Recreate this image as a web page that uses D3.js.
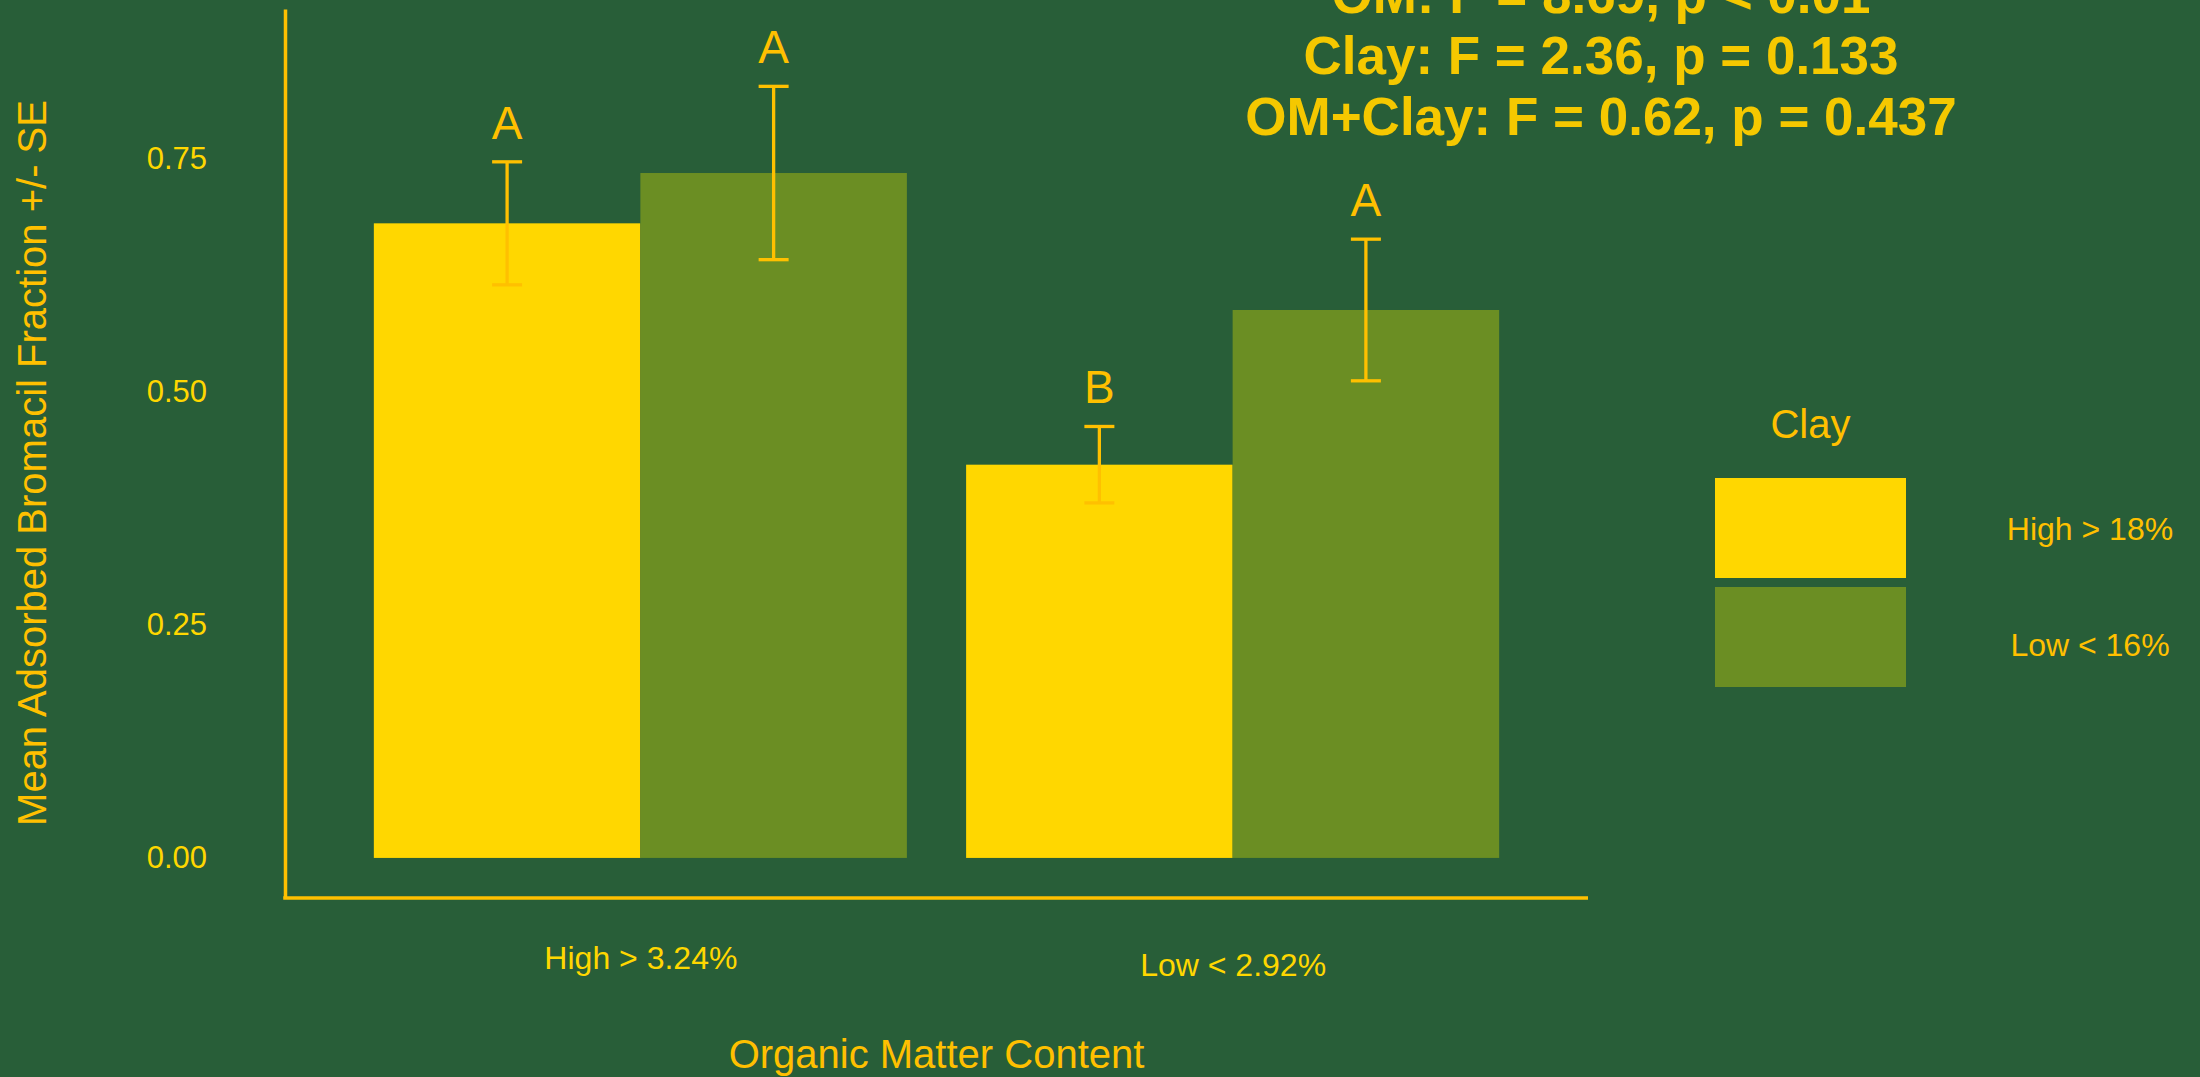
<!DOCTYPE html>
<html>
<head>
<meta charset="utf-8">
<script src="https://cdn.jsdelivr.net/npm/d3@7"></script>
<style>
  html, body { margin: 0; padding: 0; background: #285E38; }
  svg { display: block; }
  text { font-family: "Liberation Sans", Arial, sans-serif; }
</style>
</head>
<body>
<script>
// Organic matter groups (x axis) and clay groups (fill)
const omLevels = ["High > 3.24%", "Low < 2.92%"];
const clayLevels = ["High > 18%", "Low < 16%"];

// Mean adsorbed bromacil fraction, one row per OM level, one column per clay level
const meanHighOM = [0.681, 0.735];
const meanLowOM = [0.422, 0.588];
// Standard errors in the same layout
const seHighOM = [0.066, 0.093];
const seLowOM = [0.041, 0.076];
// Significance letters
const lettersHighOM = ["A", "A"];
const lettersLowOM = ["B", "A"];

const yTicks = [0, 0.25, 0.5, 0.75];
const titleLines = [
  "OM: F = 8.69, p < 0.01",
  "Clay: F = 2.36, p = 0.133",
  "OM+Clay: F = 0.62, p = 0.437"
];
const xTitle = "Organic Matter Content";
const yTitle = "Mean Adsorbed Bromacil Fraction +/- SE";
const legendTitle = "Clay";

const W = 2200, H = 1077;
const BG = "#285E38";
const AMBER = "#FFC000";
const TEXT = "#F5C800";
const TICK_TEXT = "#FFD700";
const fills = ["#FFD700", "#6B8E23"];

const rows = [
  { om: omLevels[0], means: meanHighOM, ses: seHighOM, letters: lettersHighOM },
  { om: omLevels[1], means: meanLowOM, ses: seLowOM, letters: lettersLowOM }
];
const data = rows.flatMap(r => clayLevels.map((c, i) => ({
  om: r.om, clay: c, mean: r.means[i], se: r.ses[i], letter: r.letters[i]
})));

const svg = d3.select("body").append("svg")
  .attr("width", W).attr("height", H);
svg.append("rect").attr("width", W).attr("height", H).attr("fill", BG);

// Panel geometry
const panel = { left: 285, right: 1588, top: 9, bottom: 898 };

const x = d3.scalePoint().domain(omLevels)
  .range([panel.left, panel.right]).padding(0.6);
const groupWidth = x.step() * 0.9;
const xInner = d3.scaleBand().domain(clayLevels)
  .range([-groupWidth / 2, groupWidth / 2]).padding(0);
const y = d3.scaleLinear().domain([-0.043, 0.911])
  .range([panel.bottom, panel.top]);
const color = d3.scaleOrdinal().domain(clayLevels).range(fills);

// Strings with descenders sit a little higher so their ink bottoms line up
const descShift = (s, size) => /[gjpqy]/.test(s) ? 0.22 * size : 0;

// Bars
svg.append("g").selectAll("rect").data(data).join("rect")
  .attr("x", d => x(d.om) + xInner(d.clay))
  .attr("width", xInner.bandwidth())
  .attr("y", d => y(d.mean))
  .attr("height", d => y(0) - y(d.mean))
  .attr("fill", d => color(d.clay));

// Error bars
const capHalf = 15;
const eb = svg.append("g").attr("stroke", AMBER).attr("stroke-width", 3.3)
  .attr("fill", "none");
data.forEach(d => {
  const cx = x(d.om) + xInner(d.clay) + xInner.bandwidth() / 2;
  const yHi = y(d.mean + d.se), yLo = y(d.mean - d.se);
  eb.append("line").attr("x1", cx).attr("x2", cx).attr("y1", yHi).attr("y2", yLo);
  eb.append("line").attr("x1", cx - capHalf).attr("x2", cx + capHalf).attr("y1", yHi).attr("y2", yHi);
  eb.append("line").attr("x1", cx - capHalf).attr("x2", cx + capHalf).attr("y1", yLo).attr("y2", yLo);
});

// Significance letters
svg.append("g").selectAll("text").data(data).join("text")
  .attr("x", d => x(d.om) + xInner(d.clay) + xInner.bandwidth() / 2)
  .attr("y", d => y(d.mean + d.se) - 23)
  .attr("text-anchor", "middle")
  .attr("font-size", 46)
  .attr("fill", AMBER)
  .text(d => d.letter);

// Y axis
const yAxis = svg.append("g")
  .attr("transform", `translate(${panel.left},0)`)
  .call(d3.axisLeft(y).tickValues(yTicks).tickFormat(d3.format(".2f"))
    .tickSize(0).tickPadding(78));
yAxis.select(".domain").attr("stroke", AMBER).attr("stroke-width", 3.5);
yAxis.selectAll(".tick text")
  .attr("font-size", 31).attr("fill", TICK_TEXT)
  .attr("font-family", "Liberation Sans, Arial, sans-serif");

// X axis
const xAxis = svg.append("g")
  .attr("transform", `translate(0,${panel.bottom})`)
  .call(d3.axisBottom(x).tickSize(0).tickSizeOuter(0));
xAxis.select(".domain").attr("stroke", AMBER).attr("stroke-width", 3.5)
  .attr("d", `M${panel.left - 1.75},0H${panel.right}`);
xAxis.selectAll(".tick text")
  .attr("font-size", 32).attr("fill", TICK_TEXT)
  .attr("font-family", "Liberation Sans, Arial, sans-serif")
  .attr("dy", null)
  .attr("y", d => 78 - descShift(d, 32));

// Axis titles
svg.append("text")
  .attr("x", (panel.left + panel.right) / 2).attr("y", 1068)
  .attr("text-anchor", "middle").attr("font-size", 40).attr("fill", AMBER)
  .text(xTitle);
svg.append("text")
  .attr("transform", "translate(46,463) rotate(-90)")
  .attr("text-anchor", "middle").attr("font-size", 40).attr("fill", AMBER)
  .text(yTitle);

// Statistics title
svg.append("g").selectAll("text").data(titleLines).join("text")
  .attr("x", 1601).attr("y", (d, i) => 13 + i * 61)
  .attr("text-anchor", "middle").attr("font-size", 53).attr("font-weight", "bold")
  .attr("fill", TEXT)
  .text(d => d);

// Legend
const legend = svg.append("g");
const sw = { x: 1715, w: 191, h: 100, top: 478, gap: 9 };
legend.append("text")
  .attr("x", sw.x + sw.w / 2).attr("y", 438)
  .attr("text-anchor", "middle").attr("font-size", 40).attr("fill", AMBER)
  .text(legendTitle);
clayLevels.forEach((c, i) => {
  const top = sw.top + i * (sw.h + sw.gap);
  legend.append("rect").attr("x", sw.x).attr("y", top)
    .attr("width", sw.w).attr("height", sw.h).attr("fill", color(c));
  legend.append("text")
    .attr("x", 2090).attr("y", top + sw.h / 2 + 19 - descShift(c, 32))
    .attr("text-anchor", "middle").attr("font-size", 32).attr("fill", AMBER)
    .text(c);
});
</script>
</body>
</html>
